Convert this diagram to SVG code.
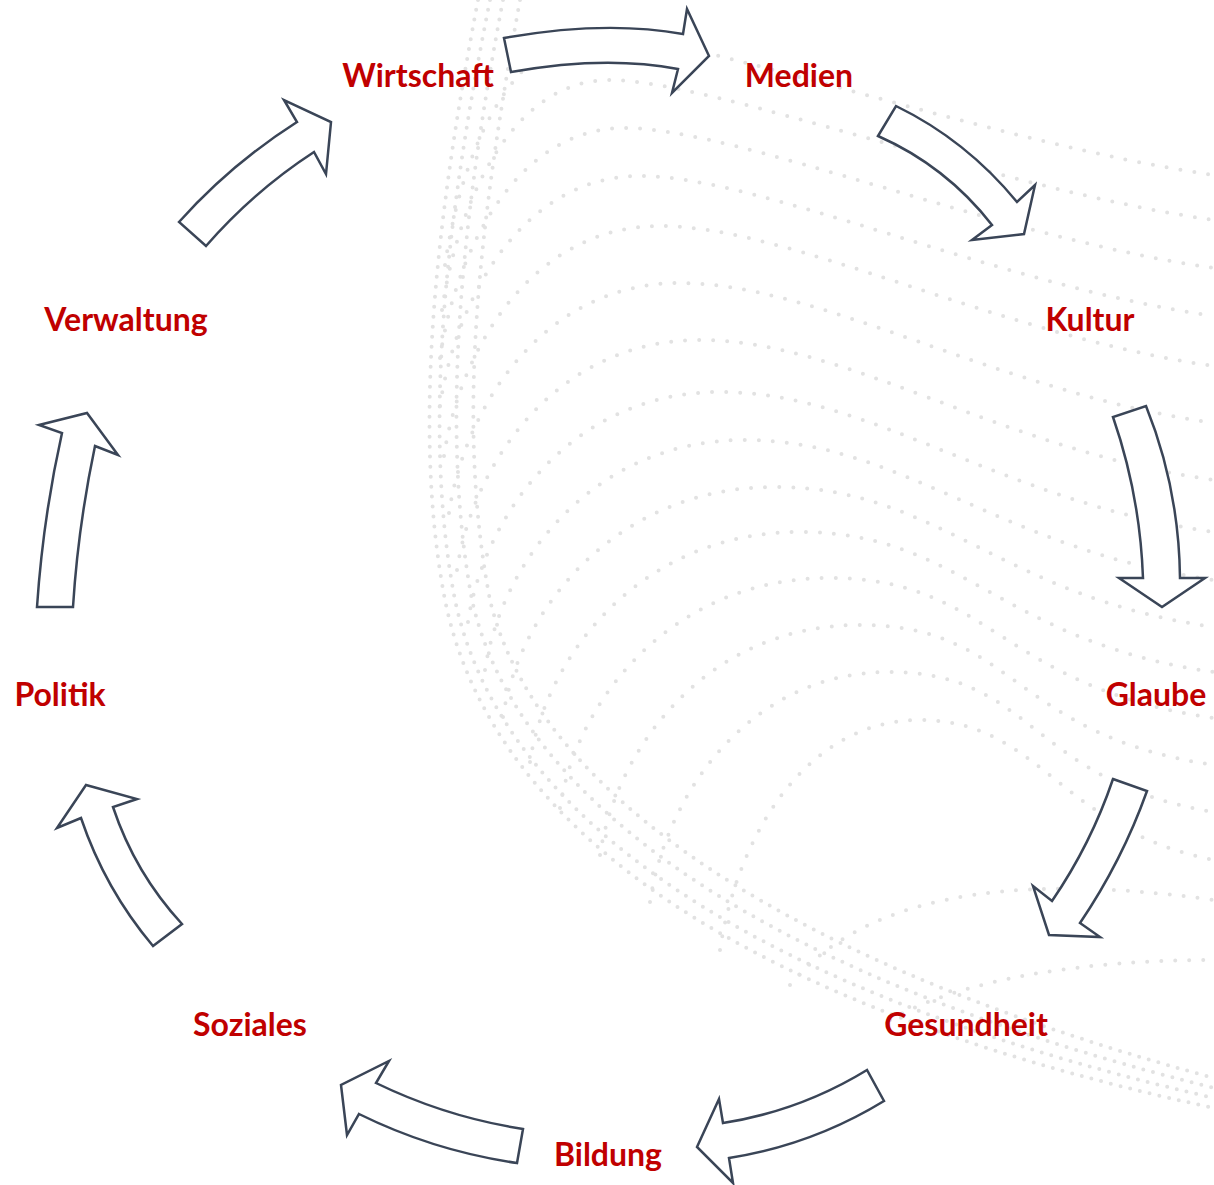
<svg xmlns="http://www.w3.org/2000/svg" width="1214" height="1185" viewBox="0 0 1214 1185">
<style>
.dots{fill:none;stroke:#e2e2e2;stroke-width:4;stroke-linecap:round;stroke-dasharray:0 14}
.band{fill:none;stroke:#e2e2e2;stroke-width:4;stroke-linecap:round;stroke-dasharray:0 10}
.arrow{fill:#ffffff;stroke:#3a4557;stroke-width:2.5;stroke-linejoin:miter}
.lbl{font-family:Lato,"Liberation Sans",sans-serif;font-weight:700;font-size:32px;fill:#c00000;text-anchor:middle}
</style>
<rect width="1214" height="1185" fill="#ffffff"/>
<g id="background">
<path class="band" d="M490,0 C450,200 420,420 455,600 C495,790 700,980 1214,1098"/>
<path class="band" d="M503,0 C465,200 438,420 472,600 C512,780 720,965 1214,1088"/>
<path class="band" d="M478,0 C440,200 410,420 445,600 C485,800 690,995 1214,1108"/>
<path class="band" d="M520,0 C480,220 455,420 490,600 C530,770 740,950 1214,1078"/>
<path class="dots" d="M445,265 C460,162 507,35 600,35 S1000,145 1214,175"/>
<path class="dots" d="M442,310 C457,207 509,80 610,80 S1000,190 1214,220"/>
<path class="dots" d="M440,358 C455,255 514,128 625,128 S1000,238 1214,268"/>
<path class="dots" d="M440,406 C455,303 520,176 640,176 S1000,286 1214,316"/>
<path class="dots" d="M444,456 C459,353 530,226 660,226 S1000,336 1214,366"/>
<path class="dots" d="M449,513 C464,410 541,283 680,283 S1000,393 1214,423"/>
<path class="dots" d="M457,570 C472,467 554,340 700,340 S1000,450 1214,480"/>
<path class="dots" d="M468,622 C483,519 569,392 720,392 S1000,502 1214,532"/>
<path class="dots" d="M485,670 C500,567 589,440 745,440 S1000,550 1214,580"/>
<path class="dots" d="M503,717 C518,614 612,487 775,487 S1000,597 1214,627"/>
<path class="dots" d="M530,762 C545,659 638,532 800,532 S1000,642 1214,672"/>
<path class="dots" d="M560,808 C575,705 668,578 830,578 S1000,688 1214,718"/>
<path class="dots" d="M600,855 C615,752 704,625 860,625 S1010,735 1214,765"/>
<path class="dots" d="M650,902 C665,799 746,672 890,672 S1030,782 1214,812"/>
<path class="dots" d="M720,950 C735,847 800,720 920,720 S1060,830 1214,860"/>
<path class="dots" d="M790,985 C860,900 1000,870 1214,900"/>
<path class="dots" d="M890,1020 C960,980 1080,960 1214,960"/>
</g>
<g id="connectors">
<path class="arrow" d="M504,38 Q605,20 683,34 L687,9 L709,56 L672,93 L678,69 Q605,55 511,72 Z"/>
<path class="arrow" d="M896,106 Q966,140 1017,202 L1035,185 L1024,234 L972,240 L992,225 Q946,166 878,136 Z"/>
<path class="arrow" d="M1146,406 Q1179,488 1180,578 L1205,578 L1162,607 L1119,578 L1143,578 Q1140,495 1113,417 Z"/>
<path class="arrow" d="M1113,779 L1147,791 Q1122,861 1080,923 L1100,937 L1049,935 L1033,886 L1052,901 Q1091,844 1113,779 Z"/>
<path class="arrow" d="M867,1070 Q800,1111 723,1123 L719,1099 L697,1147 L733,1183 L729,1158 Q812,1145 884,1101 Z"/>
<path class="arrow" d="M523,1129 Q446,1117 376,1083 L389,1061 L341,1085 L347,1135 L359,1114 Q434,1151 517,1163 Z"/>
<path class="arrow" d="M182,924 Q135,873 113,807 L137,799 L86,785 L57,828 L81,818 Q105,889 153,946 Z"/>
<path class="arrow" d="M73,607 Q78,527 95,446 L118,455 L87,413 L39,425 L62,433 Q43,518 37,607 Z"/>
<path class="arrow" d="M179,222 Q231,164 297,122 L284,100 L331,122 L326,174 L314,152 Q254,191 206,246 Z"/>
</g>
<g id="node-wirtschaft"><text class="lbl" x="418" y="87">Wirtschaft</text></g>
<g id="node-medien"><text class="lbl" x="799" y="87">Medien</text></g>
<g id="node-kultur"><text class="lbl" x="1090" y="331">Kultur</text></g>
<g id="node-glaube"><text class="lbl" x="1156" y="706">Glaube</text></g>
<g id="node-gesundheit"><text class="lbl" x="966" y="1036">Gesundheit</text></g>
<g id="node-bildung"><text class="lbl" x="608" y="1166">Bildung</text></g>
<g id="node-soziales"><text class="lbl" x="250" y="1036">Soziales</text></g>
<g id="node-politik"><text class="lbl" x="60" y="706">Politik</text></g>
<g id="node-verwaltung"><text class="lbl" x="126" y="331">Verwaltung</text></g>
</svg>
